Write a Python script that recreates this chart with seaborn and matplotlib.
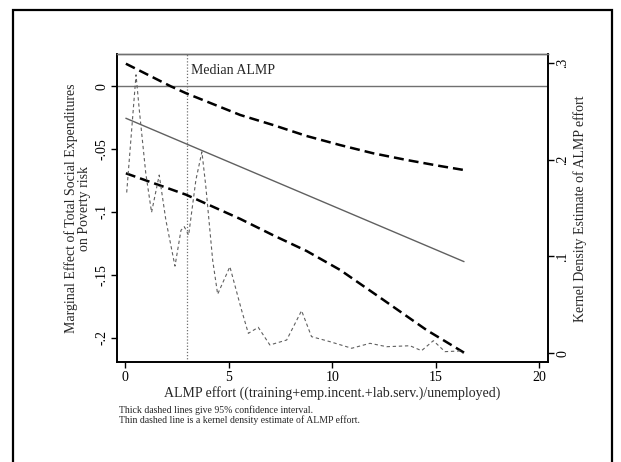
import matplotlib
matplotlib.use("Agg")
import matplotlib.pyplot as plt
import seaborn as sns
from matplotlib.patches import Rectangle

# Marginal effect line and 95% confidence bounds
me_x = [0.04, 16.36]
me_y = [-0.0254, -0.1395]

upper_x = [0.04, 2.21, 2.96, 5.56, 7.15, 8.76, 10.37, 11.98, 13.59, 15.2, 16.36]
upper_y = [0.0180, 0.0, -0.0056, -0.0228, -0.0308, -0.0395, -0.0467, -0.0533, -0.0586, -0.0634, -0.0666]

lower_x = [0.04, 2.94, 5.56, 7.15, 8.76, 10.37, 12.3, 14.56, 16.36]
lower_y = [-0.0692, -0.0862, -0.1055, -0.1185, -0.131, -0.146, -0.168, -0.194, -0.2119]

# Kernel density of ALMP effort (right axis)
kde_x = [0.08, 0.53, 0.69, 1.0, 1.28, 1.65, 1.97, 2.41, 2.7, 2.86, 3.07, 3.42, 3.71,
         3.9, 4.23, 4.47, 5.06, 5.6, 5.95, 6.43, 6.99, 7.8, 8.52, 9.0, 9.89, 10.94,
         11.34, 11.82, 12.63, 13.75, 14.31, 14.88, 15.44, 16.16, 16.32]
kde_y = [0.166, 0.2875, 0.251, 0.186, 0.1455, 0.184, 0.1376, 0.090, 0.127, 0.1307, 0.122,
         0.179, 0.208, 0.172, 0.096, 0.061, 0.0894, 0.0464, 0.0206, 0.0268, 0.0086, 0.0137,
         0.044, 0.0172, 0.012, 0.0052, 0.0075, 0.0103, 0.0068, 0.0078, 0.0027, 0.013,
         0.0017, 0.0024, 0.0]

median_almp = 2.98

x_ticks = [0, 5, 10, 15, 20]
left_ticks = [0, -0.05, -0.1, -0.15, -0.2]
left_labels = ["0", "-.05", "-.1", "-.15", "-.2"]
right_ticks = [0, 0.1, 0.2, 0.3]
right_labels = ["0", ".1", ".2", ".3"]

sns.set_style("ticks")
plt.rcParams["font.family"] = ["Liberation Serif", "DejaVu Serif"]

fig = plt.figure(figsize=(6.21, 4.62), dpi=100)
ax = fig.add_axes([0.188, 0.2158, 0.694, 0.6667])

# outer frame of the graph region (runs off the bottom of the picture)
fig.patches.append(Rectangle((13 / 621, -0.5), (612 - 13) / 621, 1.478,
                             transform=fig.transFigure, fill=False, edgecolor="black",
                             linewidth=1.6))

ax.axhline(0, color="#707070", linewidth=1.0)
ax.axvline(median_almp, color="#707070", linewidth=0.9, linestyle=(0, (1, 1.5)))
ax.text(median_almp + 0.2, 0.0124, "Median ALMP", fontsize=10, va="center", ha="left")

sns.lineplot(x=me_x, y=me_y, ax=ax, color="#606060", linewidth=1.0)
sns.lineplot(x=upper_x, y=upper_y, ax=ax, color="black", linewidth=1.8,
             linestyle=(0, (4, 2)))
sns.lineplot(x=lower_x, y=lower_y, ax=ax, color="black", linewidth=1.8,
             linestyle=(0, (4, 2)))

ax.set_xlim(-0.4, 20.4)
ax.set_ylim(-0.2196, 0.0255)
ax.set_xticks(x_ticks)
ax.set_xticklabels([str(t) for t in x_ticks], fontsize=10)
ax.set_yticks(left_ticks)
ax.set_yticklabels(left_labels, fontsize=10, rotation=90, va="center")
ax.set_xlabel("ALMP effort ((training+emp.incent.+lab.serv.)/unemployed)", fontsize=10, labelpad=2)
ax.set_ylabel("Marginal Effect of Total Social Expenditures\non Poverty risk", fontsize=10,
              linespacing=1.0, labelpad=3)

ax2 = ax.twinx()
sns.lineplot(x=kde_x, y=kde_y, ax=ax2, color="#606060", linewidth=0.8,
             linestyle=(0, (3, 2.5)))
ax2.set_ylim(-0.0093, 0.3087)
ax2.set_yticks(right_ticks)
ax2.set_yticklabels(right_labels, fontsize=10, rotation=90, va="center")
ax2.set_ylabel("Kernel Density Estimate of ALMP effort", fontsize=10, labelpad=3)

for a in (ax, ax2):
    for side in ("left", "bottom", "right"):
        a.spines[side].set_color("black")
        a.spines[side].set_linewidth(1.2)
    a.spines["top"].set_color("#707070")
    a.spines["top"].set_linewidth(1.0)
    a.tick_params(direction="out", length=4, width=1, colors="black", pad=2)

fig.text(119 / 621, 1 - 410 / 462, "Thick dashed lines give 95% confidence interval.",
         fontsize=7, va="center", ha="left")
fig.text(119 / 621, 1 - 420 / 462, "Thin dashed line is a kernel density estimate of ALMP effort.",
         fontsize=7, va="center", ha="left")

fig.savefig("out.png", dpi=100)
